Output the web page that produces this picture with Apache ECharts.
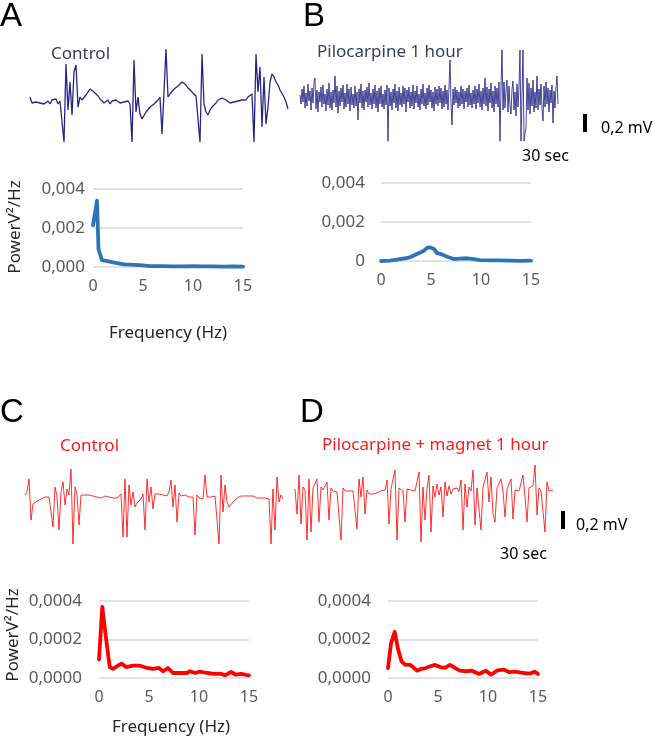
<!DOCTYPE html>
<html><head><meta charset="utf-8">
<script src="https://cdn.jsdelivr.net/npm/echarts@6/dist/echarts.min.js"></script>
<style>html,body{margin:0;padding:0;background:#fff}#c{width:660px;height:739px}</style>
</head><body><div id="c"></div>
<script>
// EEG traces (amplitude, ~0.01 mV units, relative to baseline)
const traceA = [5,-1,1,0,2,-1,1,-2,0,1,-2,2,0,3,-2,1,3,-40,38,-8,20,-13,30,37,-5,5,2,4,7,10,13,15,10,11,6,3,4,-1,0,2,-2,1,0,2,1,-1,1,0,-1,1,-2,-40,42,-10,5,-12,-17,-15,-10,-8,-5,-3,-2,0,2,5,-32,10,53,5,8,10,13,15,16,18,20,18,17,14,12,10,8,6,4,-40,48,-2,-10,-13,-8,-5,-3,-1,2,3,4,6,2,1,-1,-2,0,-1,1,0,2,3,2,5,4,8,-40,48,10,35,-25,25,-22,-5,20,28,25,20,17,12,10,5,0,-7];
const traceB = [3,-6,9,-4,12,-10,5,-8,14,-3,7,-12,10,-5,16,20,-11,8,-14,6,
 -4,11,-9,13,-6,4,-13,9,-7,15,-10,6,-12,8,-5,22,-9,12,-15,7,
 -8,10,-4,13,-11,5,-9,14,-6,9,-13,11,-7,4,-10,12,-8,6,-22,9,
 -5,14,-10,7,-12,8,-4,11,-9,15,-7,5,-11,9,-6,13,-10,7,-14,10,
 -6,12,-9,4,-11,8,-7,13,-43,10,-8,6,-12,9,-5,14,-10,7,-13,11,
 -7,5,-9,12,-6,10,-14,8,-4,11,-10,6,-8,13,-11,7,-5,12,-9,4,
 -12,9,-6,14,-8,5,-11,10,-7,13,-4,8,-10,6,-13,11,-6,9,-8,12,
 -5,10,-11,7,-9,13,-6,8,-12,10,38,-6,-27,9,-7,11,-5,8,-10,6,
 -8,12,-6,9,-11,7,-4,10,-9,13,-7,5,-10,8,-6,12,-11,9,-5,14,
 -9,7,-12,10,-6,20,-8,11,-13,9,-5,15,-10,7,-14,12,-6,10,-9,16,
 -43,10,48,-12,16,-10,8,18,-14,12,-7,-16,9,17,-12,6,-18,14,-9,11,
 48,-43,-43,48,-43,-35,-30,20,-12,15,-16,10,-8,18,-14,6,-10,22,-12,9,
 -7,14,-11,-23,12,-9,16,-6,10,-14,8,-5,13,-25,7,-10,11,22,-6];
const traceC = [2,5,18,-23,-7,-5,-4,-3,-2,-1,0,1,0,2,-30,10,1,-33,5,15,-8,8,2,28,-47,10,3,-28,2,1,2,1,2,0,1,2,0,1,-1,0,1,-1,0,-1,-1,-2,-1,-2,3,-40,18,-40,12,-8,5,-10,-6,-4,-2,3,-33,18,-5,10,-12,3,2,3,1,2,3,1,5,17,-10,12,-25,4,1,0,2,1,0,1,0,-38,2,-1,-3,-2,22,0,1,0,2,1,2,-47,22,-15,12,-5,-10,-8,-5,-3,-1,0,1,2,1,2,1,0,1,0,-1,0,-1,0,-1,0,-2,-47,8,-33,20,-5,2,-2];
const traceD = [3,-22,17,-32,5,2,-48,13,-40,4,2,13,-30,5,2,3,10,-28,4,1,2,0,1,-48,4,1,2,1,3,1,2,-37,13,-5,15,-22,2,-2,-3,-2,-1,-1,0,1,1,2,12,-32,3,1,22,-48,4,2,1,-30,3,1,2,0,1,2,20,-50,5,-28,3,17,-40,6,-5,8,-3,5,-25,10,-4,6,-2,3,1,4,0,12,-38,8,-15,5,1,22,-33,4,2,-38,5,3,20,-10,15,-22,-30,4,2,13,1,-25,3,1,13,-27,2,0,1,3,17,-5,-30,4,2,6,27,-23,4,1,3,-40,10,1,3,2];

// Power spectra (Hz, V²/Hz)
const freqA  = [0,0.4,0.55,0.9,1.4,2.4,3.1,4.7,5.7,7,8,9,10,11,12,13,14,15];
const powerA = [0.00215,0.0034,0.0009,0.00035,0.0003,0.0002,0.00013,0.0001,0.00005,0.00004,0.00003,0.00003,0.00004,0.00003,0.00003,0.00002,0.00003,0.00002];
const freqB  = [0,0.9,1.9,2.8,3.6,4.3,4.6,4.9,5.3,5.6,6.1,6.6,7.3,7.9,8.6,9.3,9.9,10.9,11.9,12.9,13.9,15];
const powerB = [0,0.00002,0.0001,0.00017,0.00036,0.00053,0.00067,0.0007,0.00062,0.0004,0.00034,0.00022,0.0001,0.00012,0.00014,0.0001,0.00005,0.00003,0.00003,0.00002,0.00001,0.00002];
const freqC  = [0,0.33,0.67,1.07,1.4,1.9,2.25,2.7,3.4,4.1,4.8,5.4,6.0,6.4,6.9,7.4,8.1,8.8,9.1,9.6,10.1,10.8,11.5,12.1,12.6,13.2,13.7,14.2,14.7,15];
const powerC = [0.000096,0.00037,0.00022,0.000057,0.000047,0.000064,0.000075,0.000057,0.000064,0.000064,0.000052,0.000047,0.000052,0.000035,0.000052,0.000026,0.000026,0.000026,0.000035,0.000026,0.000033,0.000026,0.000021,0.000023,0.000014,0.000031,0.000017,0.000021,0.000016,0.000014];
const freqD  = [0,0.3,0.67,1.0,1.35,1.7,2.2,2.5,2.9,3.4,3.7,4.0,4.7,5.2,5.7,6.2,6.7,7.2,7.8,8.4,9.1,9.8,10.3,10.95,11.6,12.1,12.8,13.5,14.2,14.7,15];
const powerD = [0.000052,0.00018,0.00024,0.00015,0.000087,0.00007,0.000068,0.000057,0.000038,0.000049,0.00005,0.000057,0.000068,0.000057,0.000052,0.000068,0.000052,0.000038,0.000035,0.000038,0.000021,0.000038,0.000017,0.00004,0.000043,0.000031,0.000033,0.000026,0.000023,0.000033,0.000021];

const xTickValues = [0,5,10,15];
const yTicksAB = [0,0.002,0.004];
const yTicksCD = [0,0.0002,0.0004];

const chart = echarts.init(document.getElementById('c'), null, {renderer:'canvas'});
const FONT = 'Noto Sans';
const grids = [], xAxes = [], yAxes = [], series = [];

function addTrace(data, left, top, step, color, width, opacity){
  const gi = grids.length;
  grids.push({left:left, top:top, width:step*(data.length-1), height:105});
  xAxes.push({gridIndex:gi, type:'value', min:0, max:data.length-1, show:false});
  yAxes.push({gridIndex:gi, type:'value', min:-50, max:55, show:false});
  series.push({type:'line', xAxisIndex:gi, yAxisIndex:gi, data:data.map((v,i)=>[i,v]),
    showSymbol:false, silent:true, lineStyle:{color:color, width:width, opacity:opacity}, animation:false});
}
function addSpec(freq, pow, left, top, height, ticks, fmt, labMargin, color){
  const gi = grids.length;
  grids.push({left:left, top:top, width:150, height:height});
  xAxes.push({gridIndex:gi, type:'value', min:xTickValues[0], max:xTickValues[3], interval:xTickValues[1],
    axisLine:{show:false}, axisTick:{show:false}, splitLine:{show:false},
    axisLabel:{color:'#595959', fontFamily:FONT, fontSize:16, margin:11}});
  yAxes.push({gridIndex:gi, type:'value', min:ticks[0], max:ticks[2], interval:ticks[1],
    axisLine:{show:false}, axisTick:{show:false},
    splitLine:{show:true, lineStyle:{color:'#d9d9d9', width:1.5}},
    axisLabel:{color:'#595959', fontFamily:FONT, fontSize:17, margin:labMargin, formatter:fmt}});
  series.push({type:'line', xAxisIndex:gi, yAxisIndex:gi, data:freq.map((f,i)=>[f,pow[i]]),
    showSymbol:false, silent:true, lineStyle:{color:color, width:3.8, cap:'round', join:'round'}, animation:false});
}

addTrace(traceA, 30, 47, 2, '#1a1a80', 1.3, 0.95);
addTrace(traceB, 300, 43, 1, '#1a1a7e', 0.9, 0.9);
addTrace(traceC, 25, 442, 2, '#ff0000', 0.9, 0.9);
addTrace(traceD, 295, 437, 2, '#ff0000', 0.9, 0.9);

const fmtA = v => v.toFixed(3).replace('.', ',');
const fmtB = v => v === 0 ? '0' : v.toFixed(3).replace('.', ',');
const fmtC = v => v.toFixed(4).replace('.', ',');
addSpec(freqA, powerA, 93, 189, 78, yTicksAB, fmtA, 8, '#2e75b6');
addSpec(freqB, powerB, 381, 183, 78, yTicksAB, fmtB, 16, '#2e75b6');
addSpec(freqC, powerC, 99, 601, 77, yTicksCD, fmtC, 17, '#ff0000');
addSpec(freqD, powerD, 388, 601, 77, yTicksCD, fmtC, 17, '#ff0000');

function txt(s, x, y, size, color, family, align, rot){
  const o = {type:'text', x:x, y:y, silent:true,
    style:{text:s, fill:color, font: size+'px "'+(family||FONT)+'"', textAlign:align||'left', textVerticalAlign:'middle'}};
  if (rot) o.rotation = rot;
  return o;
}
const graphic = [
  txt('A', 0, 17, 33, '#000', 'Liberation Sans'),
  txt('B', 303, 17, 33, '#000', 'Liberation Sans'),
  txt('C', 0, 413, 33, '#000', 'Liberation Sans'),
  txt('D', 300, 413, 33, '#000', 'Liberation Sans'),
  txt('Control', 51, 54, 17, '#333f5c'),
  txt('Pilocarpine 1 hour', 317, 52, 17, '#333f5c'),
  txt('Control', 60, 446, 17, '#ff1a1a'),
  txt('Pilocarpine + magnet 1 hour', 322, 445, 17, '#ff1a1a'),
  {type:'rect', shape:{x:583, y:114, width:4, height:18}, style:{fill:'#000'}, silent:true},
  txt('0,2 mV', 601, 128, 16, '#000'),
  txt('30 sec', 522, 156, 16, '#000'),
  {type:'rect', shape:{x:561, y:511, width:4, height:18}, style:{fill:'#000'}, silent:true},
  txt('0,2 mV', 576, 525, 16, '#000'),
  txt('30 sec', 500, 554, 16, '#000'),
  txt('PowerV²/Hz', 15, 227, 17, '#262626', FONT, 'center', Math.PI/2),
  txt('PowerV²/Hz', 13, 635, 17, '#262626', FONT, 'center', Math.PI/2),
  txt('Frequency (Hz)', 168, 333, 17, '#262626', FONT, 'center'),
  txt('Frequency (Hz)', 171, 727, 17, '#262626', FONT, 'center')
];

chart.setOption({animation:false, backgroundColor:'#fff', grid:grids, xAxis:xAxes, yAxis:yAxes, series:series, graphic:graphic});
</script></body></html>
